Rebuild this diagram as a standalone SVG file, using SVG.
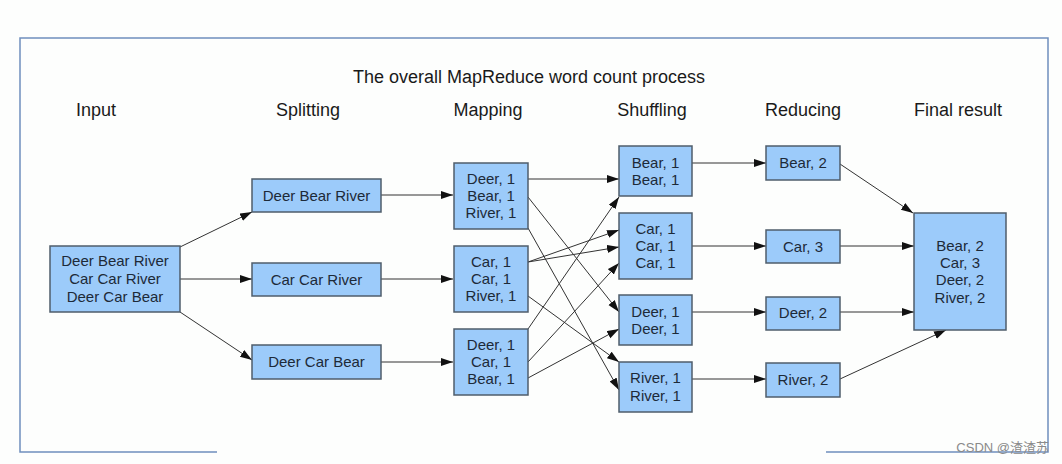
<svg xmlns="http://www.w3.org/2000/svg" width="1062" height="464" viewBox="0 0 1062 464">
<defs>
<marker id="ah" markerUnits="userSpaceOnUse" markerWidth="13" markerHeight="9" refX="12" refY="4" orient="auto">
<path d="M0,0 L12,4 L0,8 Z" fill="#111"/>
</marker>
<style>
.box{fill:#9ccbfa;stroke:#4f5d6b;stroke-width:1.5}
.t{font-family:"Liberation Sans",Arial,sans-serif;font-size:15px;fill:#1d2a38;text-anchor:middle}
.h{font-family:"Liberation Sans",Arial,sans-serif;font-size:18px;fill:#1a1a1a;text-anchor:middle}
.c line{stroke:#333;stroke-width:1;marker-end:url(#ah)}
.frame{fill:none;stroke:#6f8fbd;stroke-width:1.5}
</style>
</defs>
<rect width="1062" height="464" fill="#fdfefd"/>
<g id="frame">
<path class="frame" d="M217,452 L20,452 L20,38 L1048,38 L1048,452 L826,452"/>
</g>
<g id="titles">
<text class="h" x="529" y="83">The overall MapReduce word count process</text>
<text class="h" x="96" y="116">Input</text>
<text class="h" x="308" y="116">Splitting</text>
<text class="h" x="488" y="116">Mapping</text>
<text class="h" x="652" y="116">Shuffling</text>
<text class="h" x="803" y="116">Reducing</text>
<text class="h" x="958" y="116">Final result</text>
</g>
<g class="c" id="connectors">
<line x1="180" y1="247" x2="252" y2="212"/>
<line x1="180" y1="279" x2="252" y2="279"/>
<line x1="180" y1="312" x2="252" y2="360"/>
<line x1="381" y1="195" x2="453" y2="195"/>
<line x1="381" y1="279" x2="453" y2="279"/>
<line x1="381" y1="362" x2="453" y2="362"/>
<line x1="528" y1="179" x2="619" y2="179"/>
<line x1="528" y1="197" x2="619" y2="312"/>
<line x1="528" y1="228" x2="619" y2="390"/>
<line x1="528" y1="262" x2="619" y2="230"/>
<line x1="528" y1="262" x2="619" y2="247"/>
<line x1="528" y1="296" x2="619" y2="362"/>
<line x1="528" y1="329" x2="619" y2="197"/>
<line x1="528" y1="362" x2="619" y2="263"/>
<line x1="528" y1="378" x2="619" y2="329"/>
<line x1="692" y1="163" x2="766" y2="163"/>
<line x1="692" y1="246" x2="766" y2="246"/>
<line x1="692" y1="312" x2="766" y2="312"/>
<line x1="692" y1="379" x2="766" y2="379"/>
<line x1="840" y1="164" x2="913" y2="213"/>
<line x1="840" y1="246" x2="914" y2="246"/>
<line x1="840" y1="312" x2="914" y2="312"/>
<line x1="840" y1="379" x2="946" y2="330"/>
</g>
<g id="input">
<rect class="box" x="50" y="246" width="130" height="66"/>
<text class="t" x="115" y="266">Deer Bear River</text>
<text class="t" x="115" y="284">Car Car River</text>
<text class="t" x="115" y="301.5">Deer Car Bear</text>
</g>
<g id="split1">
<rect class="box" x="252" y="179" width="129" height="33"/>
<text class="t" x="316.5" y="200.5">Deer Bear River</text>
</g>
<g id="split2">
<rect class="box" x="252" y="263" width="129" height="33"/>
<text class="t" x="316.5" y="284.5">Car Car River</text>
</g>
<g id="split3">
<rect class="box" x="252" y="345" width="129" height="34"/>
<text class="t" x="316.5" y="367">Deer Car Bear</text>
</g>
<g id="map1">
<rect class="box" x="454" y="163" width="74" height="66"/>
<text class="t" x="491" y="183.5">Deer, 1</text>
<text class="t" x="491" y="200.5">Bear, 1</text>
<text class="t" x="491" y="217.5">River, 1</text>
</g>
<g id="map2">
<rect class="box" x="454" y="246" width="74" height="66"/>
<text class="t" x="491" y="266.5">Car, 1</text>
<text class="t" x="491" y="283.5">Car, 1</text>
<text class="t" x="491" y="300.5">River, 1</text>
</g>
<g id="map3">
<rect class="box" x="454" y="329" width="74" height="66"/>
<text class="t" x="491" y="349.5">Deer, 1</text>
<text class="t" x="491" y="366.5">Car, 1</text>
<text class="t" x="491" y="383.5">Bear, 1</text>
</g>
<g id="shuf1">
<rect class="box" x="619" y="146" width="73" height="50"/>
<text class="t" x="655.5" y="167.5">Bear, 1</text>
<text class="t" x="655.5" y="185">Bear, 1</text>
</g>
<g id="shuf2">
<rect class="box" x="619" y="213" width="73" height="66"/>
<text class="t" x="655.5" y="233.5">Car, 1</text>
<text class="t" x="655.5" y="250.5">Car, 1</text>
<text class="t" x="655.5" y="267.5">Car, 1</text>
</g>
<g id="shuf3">
<rect class="box" x="619" y="295" width="73" height="50"/>
<text class="t" x="655.5" y="316.5">Deer, 1</text>
<text class="t" x="655.5" y="334">Deer, 1</text>
</g>
<g id="shuf4">
<rect class="box" x="619" y="362" width="73" height="50"/>
<text class="t" x="655.5" y="383">River, 1</text>
<text class="t" x="655.5" y="400.5">River, 1</text>
</g>
<g id="red1">
<rect class="box" x="766" y="146" width="74" height="34"/>
<text class="t" x="803" y="168">Bear, 2</text>
</g>
<g id="red2">
<rect class="box" x="766" y="230" width="74" height="33"/>
<text class="t" x="803" y="251.5">Car, 3</text>
</g>
<g id="red3">
<rect class="box" x="766" y="297" width="74" height="33"/>
<text class="t" x="803" y="318">Deer, 2</text>
</g>
<g id="red4">
<rect class="box" x="766" y="363" width="74" height="34"/>
<text class="t" x="803" y="384.5">River, 2</text>
</g>
<g id="final">
<rect class="box" x="914" y="213" width="92" height="117"/>
<text class="t" x="960" y="250.5">Bear, 2</text>
<text class="t" x="960" y="268">Car, 3</text>
<text class="t" x="960" y="285">Deer, 2</text>
<text class="t" x="960" y="302.5">River, 2</text>
</g>
<text x="1049" y="452" text-anchor="end" font-family="'Liberation Sans','Noto Sans CJK SC',sans-serif" font-size="13" fill="#8a8a8a">CSDN @渣渣苏</text>
</svg>
